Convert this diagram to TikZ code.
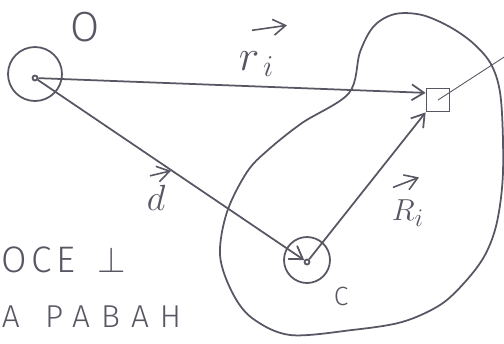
\documentclass[tikz,border=0pt]{standalone}
\usepackage{amsmath}
\usepackage{fontspec}
\usepackage{tikz}
\usetikzlibrary{arrows.meta,positioning}
\IfFontExistsTF{Fira Sans Light}
  {\newfontfamily\handfont[LetterSpace=12]{Fira Sans Light}
   \newfontfamily\widefont[LetterSpace=35]{Fira Sans Light}}
  {\newfontfamily\handfont[LetterSpace=12]{DejaVu Sans}
   \newfontfamily\widefont[LetterSpace=25]{DejaVu Sans}}
\definecolor{ink}{RGB}{88,86,98}

\begin{document}
\begin{tikzpicture}[
  x=0.02cm, y=-0.02cm,
  ring/.style={draw, circle, minimum size=#1, inner sep=0pt},
  pt/.style={draw, circle, minimum size=0.1cm, inner sep=0pt},
  lbl/.style={text=ink, inner sep=0pt},
  vecarr/.style={->, line width=0.9pt},
  >={Straight Barb[length=7pt,width=9pt]}, line width=1pt, draw=ink, color=ink
]
  \useasboundingbox (0,0) rectangle (504,343);
  \clip (0,0) rectangle (504,343);

  % body
  \draw plot[smooth cycle, tension=0.55] coordinates {
    (349,93) (360,52) (374,26) (395,14) (422,15) (450,27) (474,44) (492,66)
    (501,100) (503,172) (497,222) (485,255) (465,282) (440,305) (402,322)
    (352,330) (290,335) (252,318) (232,292) (220,255) (227,212) (247,172)
    (268,150) (302,123)};

  \node[pt] (Odot) at (35,78) {};
  \node[ring=1.08cm] (Oring) at (35,74) {};
  \node[pt] (Cdot) at (307,262) {};
  \node[ring=0.92cm] (Cring) at (307,260) {};
  \node[draw, minimum size=0.46cm, inner sep=0pt] (sq) at (438,100) {};
  \coordinate (far) at (515,50);

  % labels
  \node[lbl, font=\handfont\fontsize{24}{26}\selectfont] (Olbl) at (85,27) {O};
  \node[lbl, font=\handfont\fontsize{15}{17}\selectfont] (Clbl) at (341,296) {C};
  \node[lbl, anchor=base west, font=\fontsize{26}{30}\selectfont] (rlbl) at (238,70) {$r_{\,i}$};
  \node[lbl, anchor=base west, font=\fontsize{22}{26}\selectfont] (dlbl) at (146,210) {$d$};
  \node[lbl, anchor=base west, font=\fontsize{19}{22}\selectfont] (Rlbl) at (391,220) {$R_{i}$};
  \draw[vecarr] ([shift={(14,-20)}]rlbl.north west) -- ([shift={(49,-25)}]rlbl.north west);
  \draw[vecarr] ([shift={(4,-8)}]dlbl.north west) -- ([shift={(25,-13)}]dlbl.north west);
  \draw[vecarr] ([shift={(2,-11)}]Rlbl.north west) -- ([shift={(28,-21)}]Rlbl.north west);

  \node[lbl, anchor=base west, font=\handfont\fontsize{21}{24}\selectfont]
    (note1) at (1,272) {ОСЕ\hspace{0.6em}$\perp$};
  \node[lbl, anchor=base west, font=\widefont\fontsize{18}{21}\selectfont]
    (note2) at (1,327) {А\hspace{0.8em}РАВАН};

  % vectors
  \draw[->] (Odot) -- (sq.150);
  \draw[->] (Odot) -- (Cdot);
  \draw[->] (Cdot) -- (sq.-135);
  \draw[line width=0.5pt] (sq.center) -- (far);
\end{tikzpicture}
\end{document}
